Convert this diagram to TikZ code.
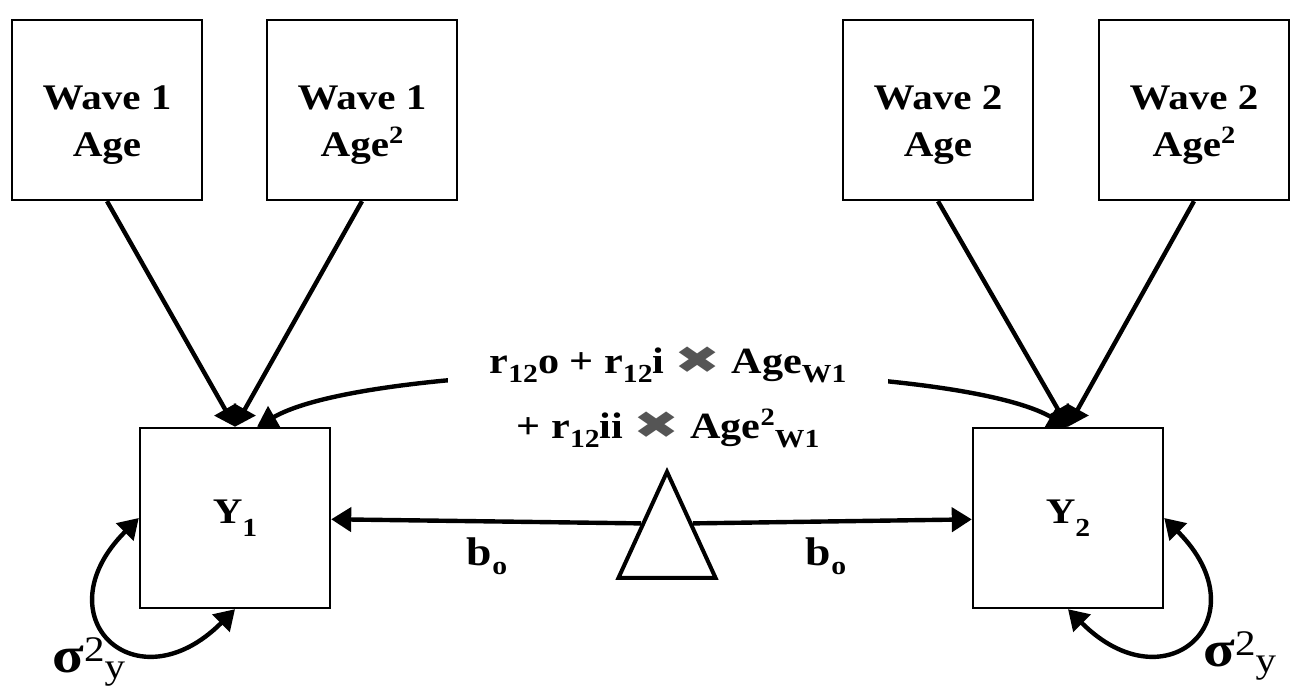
\documentclass[tikz,border=0pt]{standalone}
\usepackage{fontspec}
\setmainfont{Liberation Serif}[FakeStretch=1.14]
\newfontfamily\symfont{DejaVu Sans}[FakeStretch=1.45]
\usetikzlibrary{shapes.geometric, arrows.meta}
\definecolor{crossgray}{RGB}{85,85,85}
\newcommand{\subtxt}[1]{\raisebox{-4.5pt}{\fontsize{13}{13}\selectfont #1}}
\newcommand{\suptxt}[1]{\raisebox{6.5pt}{\fontsize{12.5}{12.5}\selectfont #1}}
\newcommand{\ysub}[1]{\raisebox{-6.5pt}{\fontsize{13}{13}\selectfont #1}}
\newcommand{\crossx}{{\color{crossgray}\symfont\fontsize{19}{19}\selectfont ✖}}
\newcommand{\sigy}{{\fontsize{25.5}{25.5}\selectfont σ}\raisebox{5.5pt}{\mdseries 2}\raisebox{-3pt}{\mdseries y}}
\tikzstyle{box} = [rectangle, minimum width=95pt, minimum height=90pt, text centered, align=center, draw=black, line width=1.2pt, fill=none, font=\bfseries\fontsize{18}{23.5}\selectfont]
\tikzstyle{boxtxt} = [align=center, yshift=-7.5pt, font=\bfseries\fontsize{18}{23.5}\selectfont]
\tikzstyle{const} = [isosceles triangle, isosceles triangle apex angle=49, isosceles triangle stretches, shape border rotate=90, minimum width=48.5pt, minimum height=53pt, inner sep=0pt, draw=black, line width=2pt]
\tikzstyle{lbl} = [font=\bfseries\fontsize{18}{23.5}\selectfont]
\tikzstyle{arrow} = [line width=2.2pt, -{Triangle[length=10pt,width=12pt]}]
\tikzstyle{dblarrow} = [line width=2.2pt, {Triangle[length=10pt,width=12pt]}-{Triangle[length=10pt,width=12pt]}]
\begin{document}
\begin{tikzpicture}[x=0.5pt, y=0.5pt]
\useasboundingbox (0,0) rectangle (1294,688);
\node[box, label={[boxtxt]center:{Wave 1\\Age}}] (w1a) at (107,578) {};
\node[box, label={[boxtxt]center:{Wave 1\\Age\suptxt{2}}}] (w1b) at (362,578) {};
\node[box, label={[boxtxt]center:{Wave 2\\Age}}] (w2a) at (938,578) {};
\node[box, label={[boxtxt]center:{Wave 2\\Age\suptxt{2}}}] (w2b) at (1194,578) {};
\node[box] (y1) at (235,170) {Y\ysub{1}};
\node[box] (y2) at (1068,170) {Y\ysub{2}};
\node[const, anchor=apex] (tri) at (667,221) {};
\draw[arrow] (w1a.south) -- (y1.north);
\draw[arrow] (w1b.south) -- (y1.north);
\draw[arrow] (w2a.south) -- (y2.north);
\draw[arrow] (w2b.south) -- (y2.north);
\draw[dblarrow] ([xshift=11pt]y1.north) to[out=30,in=150,looseness=0.45] (y2.north);
\node[lbl, fill=white, align=center, minimum width=220pt, inner ysep=4pt, font=\bfseries\fontsize{18.5}{32.5}\selectfont] (r12) at (668,291) {r\subtxt{12}o + r\subtxt{12}i \crossx{} Age\subtxt{W1}\\+ r\subtxt{12}ii \crossx{} Age\suptxt{2}\subtxt{W1}};
\draw[arrow] (tri.left side) -- (y1);
\draw[arrow] (tri.right side) -- (y2);
\node[lbl, font=\bfseries\fontsize{20}{20}\selectfont] (bo1) at (487,132) {b\subtxt{o}};
\node[lbl, font=\bfseries\fontsize{20}{20}\selectfont] (bo2) at (826,132) {b\subtxt{o}};
\draw[dblarrow] (y1.west) to[out=225,in=225,looseness=2.7] (y1.south);
\draw[dblarrow] (y2.east) to[out=-45,in=-45,looseness=2.7] (y2.south);
\node[lbl, anchor=base west, inner sep=0pt] (sg1) at (52,15) {\sigy};
\node[lbl, anchor=base west, inner sep=0pt] (sg2) at (1203,21) {\sigy};
\end{tikzpicture}
\end{document}
